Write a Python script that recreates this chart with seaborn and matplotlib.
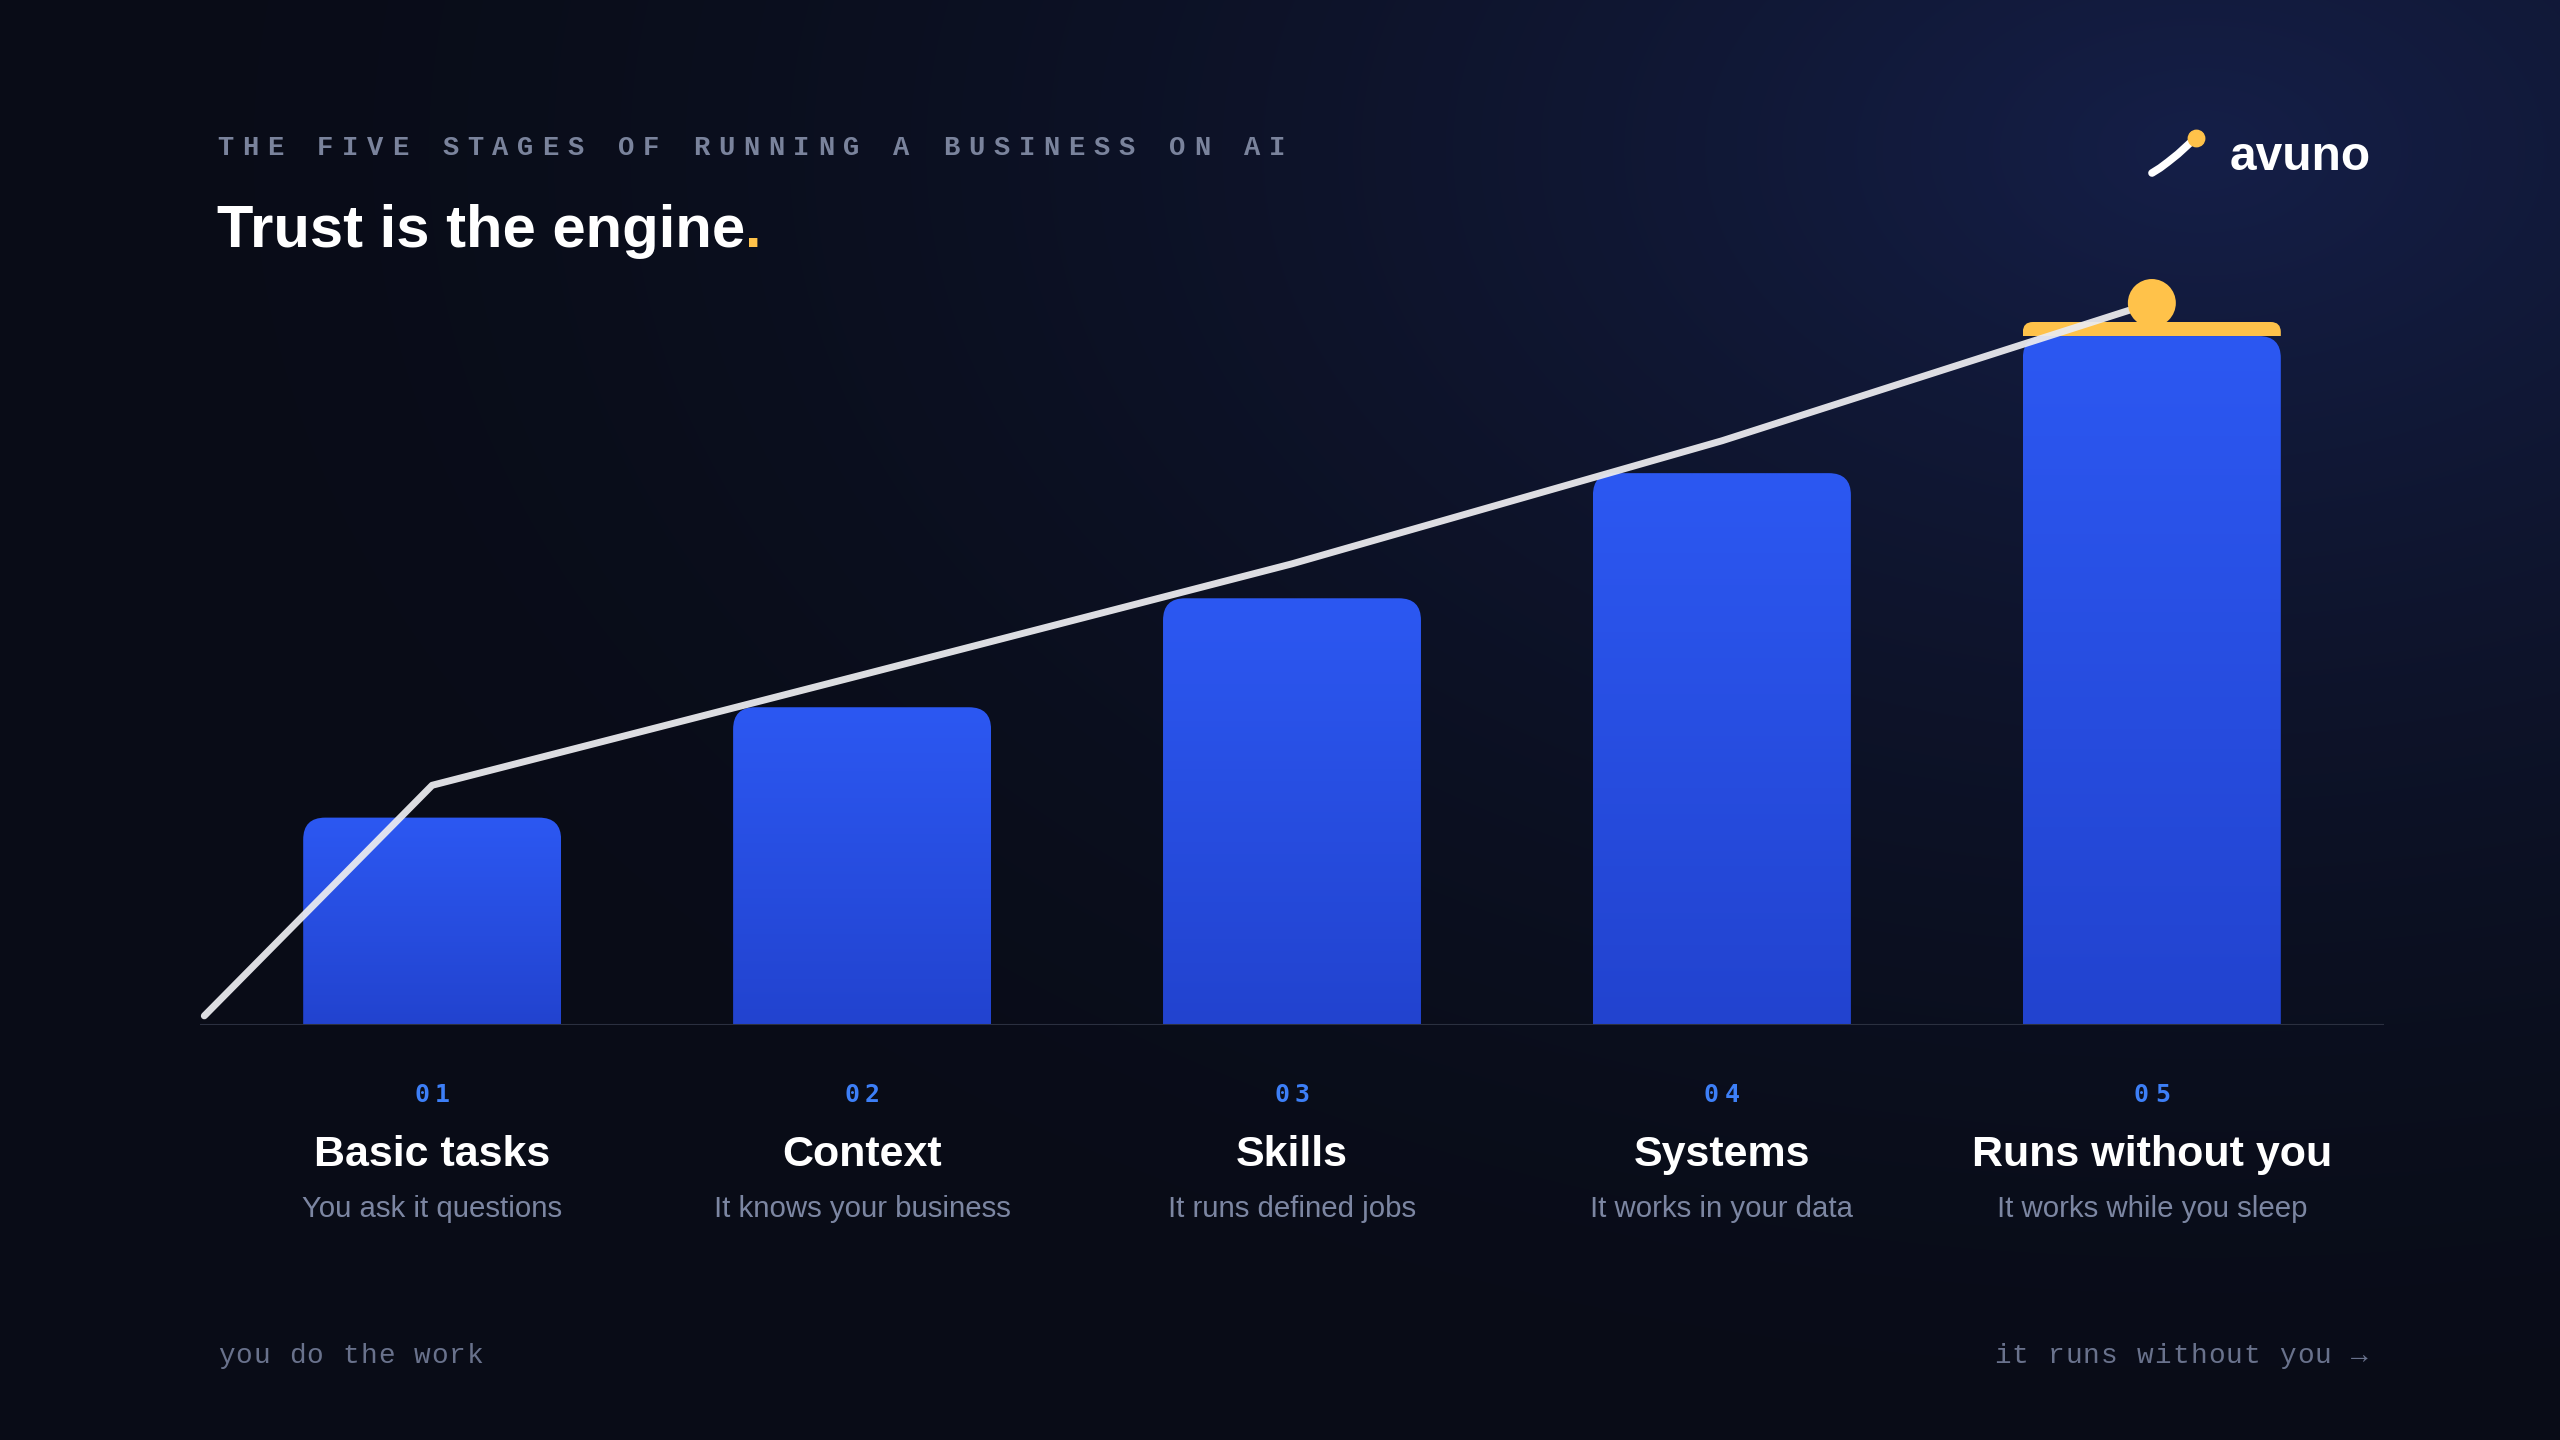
import numpy as np
import matplotlib
matplotlib.use("Agg")
import matplotlib.pyplot as plt
import matplotlib.transforms as mtransforms
from matplotlib.patches import FancyBboxPatch, Rectangle
import seaborn as sns

# data
stage_nums = ["01", "02", "03", "04", "05"]
stage_names = ["Basic tasks", "Context", "Skills", "Systems", "Runs without you"]
stage_subs = ["You ask it questions", "It knows your business", "It runs defined jobs",
              "It works in your data", "It works while you sleep"]
bar_values = [29.5, 45.2, 60.7, 78.5, 98.0]
peak_cap_top = 100.0
trust_x = [-0.53, 0, 1, 2, 3, 4]
trust_y = [1.3, 34.1, 49.8, 65.6, 83.1, 102.7]

sns.set_style("dark")
plt.rcParams['font.family'] = ['Liberation Sans', 'DejaVu Sans']

W, H = 2560, 1440
fig = plt.figure(figsize=(25.6, 14.4), dpi=100)

# background (pixel coords)
bg = fig.add_axes([0, 0, 1, 1])
yy, xx = np.mgrid[0:H, 0:W]
d = np.hypot(xx - 2200, (yy - 150) * 1.6)
t = np.clip(1 - d / 2200, 0, 1) ** 1.8
dark = np.array([9, 12, 23]) / 255
navy = np.array([0x15, 0x1f, 0x48]) / 255
img = dark + t[..., None] * (navy - dark)
bg.imshow(img, extent=(0, W, H, 0), aspect='auto', interpolation='bilinear')
bg.set_xlim(0, W)
bg.set_ylim(H, 0)
bg.axis('off')

# main chart
ax = fig.add_axes([200 / W, (H - 1025) / H, 2184 / W, 773.3 / H])
ax.set_facecolor('none')
idx = np.arange(len(stage_names))
sns.barplot(x=idx, y=bar_values, ax=ax, width=0.6, color='#2b57f0', zorder=2)

xlim = (-0.54, 4.54)
ylim = (0, 110)
ax.set_xlim(*xlim)
ax.set_ylim(*ylim)

px_x = 2184 / (xlim[1] - xlim[0])
px_y = 773.3 / (ylim[1] - ylim[0])
rad = 22
rx = rad / px_x
aspect = (rad / px_y) / rx

grad = np.linspace(0, 1, 128)[:, None, None]
c_bot = np.array([0x22, 0x43, 0xcf]) / 255
c_top = np.array([0x2c, 0x58, 0xf2]) / 255
grad_img = c_bot + grad * (c_top - c_bot)
grad_img = np.repeat(grad_img, 2, axis=1)

bars = list(ax.patches)
for p in bars:
    x0, w, h = p.get_x(), p.get_width(), p.get_height()
    p.set_visible(False)
    clip = FancyBboxPatch((x0, -2 * rad / px_y), w, h + 2 * rad / px_y,
                          boxstyle=f"round,pad=0,rounding_size={rx}",
                          mutation_aspect=aspect, transform=ax.transData)
    im = ax.imshow(grad_img, extent=(x0, x0 + w, 0, h), origin='lower',
                   aspect='auto', interpolation='bilinear', zorder=2)
    im.set_clip_path(clip)

# yellow cap on the last bar
last = bars[-1]
x0, w, h = last.get_x(), last.get_width(), last.get_height()
rc = 10 / px_x
cap = FancyBboxPatch((x0, h - 3), w, peak_cap_top - h + 3,
                     boxstyle=f"round,pad=0,rounding_size={rc}",
                     mutation_aspect=aspect, facecolor='#ffc24a', edgecolor='none', zorder=2)
ax.add_patch(cap)
cap.set_clip_path(Rectangle((x0, h), w, 10, transform=ax.transData))

ax.set_xlim(*xlim)
ax.set_ylim(*ylim)

ax.axhline(0, color='#2b3040', lw=1.5, zorder=3)

sns.lineplot(x=trust_x, y=trust_y, sort=False, ax=ax, color='#ebebef', lw=5,
             solid_capstyle='round', alpha=0.94, zorder=5)
sns.scatterplot(x=[trust_x[-1]], y=[trust_y[-1]], s=1194, color='#ffc24a',
                edgecolor='none', ax=ax, zorder=6, clip_on=False)

ax.set_xticks([])
ax.set_yticks([])
ax.set_xlabel('')
ax.set_ylabel('')
ax.grid(False)
for s in ax.spines.values():
    s.set_visible(False)


def spaced(tr, x, y, s, step, align, **kw):
    n = len(s)
    if align == 'left':
        offs = [i * step for i in range(n)]
    elif align == 'right':
        offs = [-(n - 1 - i) * step for i in range(n)]
    else:
        offs = [(i - (n - 1) / 2) * step for i in range(n)]
    for ch, o in zip(s, offs):
        if ch == ' ':
            continue
        t2 = mtransforms.offset_copy(tr, fig=fig, x=o, y=0, units='dots')
        fig.text(x, y, ch, transform=t2, ha='center', va='baseline', **kw)


# header
spaced(bg.transData, 225, 155, "THE FIVE STAGES OF RUNNING A BUSINESS ON AI", 25.05, 'left',
       family=['Liberation Mono', 'DejaVu Sans Mono'], fontweight='bold', fontsize=19.5,
       color='#7a839c')
title = bg.text(217, 247, "Trust is the engine", color='white', fontsize=43,
                fontweight='bold', va='baseline', ha='left')
bg.annotate(".", xy=(1, 0), xycoords=title, ha='left', va='bottom',
            color='#ffc24a', fontsize=43, fontweight='bold')

# logo
bg.plot([2152, 2160, 2168, 2178, 2190], [173, 168, 162, 154, 143], color='white', lw=5.5,
        solid_capstyle='round')
bg.scatter([2196], [138], s=140, color='#ffc24a', zorder=5)
bg.text(2230, 170, "avuno", color='white', fontsize=34.5, fontweight='bold', va='baseline')

# stage labels
lab_tr = mtransforms.blended_transform_factory(ax.transData, bg.transData)
for i in idx:
    spaced(lab_tr, i, 1102, stage_nums[i], 21, 'center',
           family=['DejaVu Sans Mono'], fontweight='bold', fontsize=18, color='#3d7ff7')
    ax.text(i, 1166, stage_names[i], transform=lab_tr, ha='center', va='baseline',
            color='white', fontsize=31, fontweight='bold')
    ax.text(i, 1217, stage_subs[i], transform=lab_tr, ha='center', va='baseline',
            color='#7c86a2', fontsize=21.2)

# footer
spaced(bg.transData, 226, 1363, "you do the work", 17.8, 'left',
       family=['Liberation Mono', 'DejaVu Sans Mono'], fontsize=20, color='#69728c')
spaced(bg.transData, 2359, 1363, "it runs without you →", 17.85, 'right',
       family=['Liberation Mono', 'DejaVu Sans Mono'], fontsize=20, color='#69728c')

fig.savefig("out.png", dpi=100)
